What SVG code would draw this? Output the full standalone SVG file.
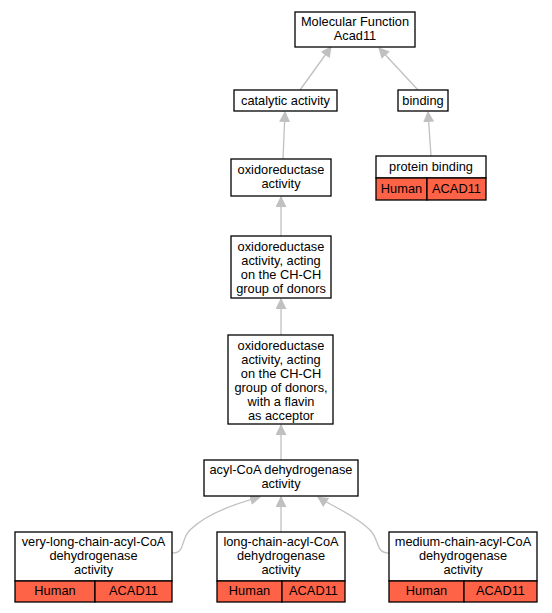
<svg xmlns="http://www.w3.org/2000/svg" width="552" height="613" viewBox="0 0 552 613">
<defs>
<marker id="ah" viewBox="0 0 10 10" refX="9" refY="5" markerWidth="11" markerHeight="11" markerUnits="userSpaceOnUse" orient="auto">
<path d="M0,0 L10,5 L0,10 z" fill="#c0c0c0"/>
</marker>
<style>
.n{fill:#fff;stroke:#000;stroke-width:1.3}
.h{fill:#ff6347;stroke:#000;stroke-width:1.3}
text{font-family:"Liberation Sans",Arial,sans-serif;font-size:12.8px;text-anchor:middle;fill:#000}
.e{fill:none;stroke:#c0c0c0;stroke-width:1.3;marker-end:url(#ah)}
</style>
</defs>
<rect width="552" height="613" fill="#fff"/>
<g id="edges">
<path class="e" d="M300,90 L331,47"/>
<path class="e" d="M418,90 L379,48"/>
<path class="e" d="M431,156 L428,112"/>
<path class="e" d="M283,159 L285,112"/>
<path class="e" d="M281,236 L281,197"/>
<path class="e" d="M281,335 L281,299"/>
<path class="e" d="M281,460 L281,425"/>
<path class="e" d="M172,553 C186,553 180,540 190,530 C205,515 230,505 260,497"/>
<path class="e" d="M281,532 L281,497"/>
<path class="e" d="M389,553 C375,553 380,540 370,530 C355,515 330,505 318,497"/>
</g>
<g id="mf"><rect class="n" x="295" y="12" width="120" height="35"/><text x="355" y="26">Molecular Function</text><text x="355" y="40">Acad11</text></g>
<g id="catalytic"><rect class="n" x="234" y="90" width="103" height="21"/><text x="285.5" y="105">catalytic activity</text></g>
<g id="binding"><rect class="n" x="398" y="90" width="50" height="21"/><text x="423" y="105">binding</text></g>
<g id="protein_binding"><rect class="n" x="376" y="156" width="110" height="22"/><text x="431" y="171">protein binding</text>
<rect class="h" x="376" y="178" width="51" height="22"/><text x="401.5" y="193">Human</text>
<rect class="h" x="427" y="178" width="59" height="22"/><text x="456.5" y="193">ACAD11</text></g>
<g id="oxido"><rect class="n" x="231" y="159" width="100" height="37"/><text x="281" y="174">oxidoreductase</text><text x="281" y="188">activity</text></g>
<g id="chch"><rect class="n" x="231" y="236" width="100" height="62"/><text x="281" y="251">oxidoreductase</text><text x="281" y="265">activity, acting</text><text x="281" y="279">on the CH-CH</text><text x="281" y="293">group of donors</text></g>
<g id="flavin"><rect class="n" x="228" y="335" width="105" height="89"/><text x="281" y="350">oxidoreductase</text><text x="281" y="364">activity, acting</text><text x="281" y="378">on the CH-CH</text><text x="281" y="392">group of donors,</text><text x="281" y="406">with a flavin</text><text x="281" y="420">as acceptor</text></g>
<g id="acyl"><rect class="n" x="204" y="460" width="154" height="36"/><text x="281" y="474">acyl-CoA dehydrogenase</text><text x="281" y="488">activity</text></g>
<g id="vlc"><rect class="n" x="15" y="532" width="157" height="49"/><text x="93.5" y="546">very-long-chain-acyl-CoA</text><text x="93.5" y="560">dehydrogenase</text><text x="93.5" y="574">activity</text>
<rect class="h" x="15" y="581" width="80" height="21"/><text x="55" y="595">Human</text>
<rect class="h" x="95" y="581" width="77" height="21"/><text x="133.5" y="595">ACAD11</text></g>
<g id="lc"><rect class="n" x="217" y="532" width="128" height="49"/><text x="281" y="546">long-chain-acyl-CoA</text><text x="281" y="560">dehydrogenase</text><text x="281" y="574">activity</text>
<rect class="h" x="217" y="581" width="65" height="21"/><text x="249.5" y="595">Human</text>
<rect class="h" x="282" y="581" width="63" height="21"/><text x="313.5" y="595">ACAD11</text></g>
<g id="mc"><rect class="n" x="389" y="532" width="148" height="49"/><text x="463" y="546">medium-chain-acyl-CoA</text><text x="463" y="560">dehydrogenase</text><text x="463" y="574">activity</text>
<rect class="h" x="389" y="581" width="75" height="21"/><text x="426.5" y="595">Human</text>
<rect class="h" x="464" y="581" width="73" height="21"/><text x="500.5" y="595">ACAD11</text></g>
</svg>
